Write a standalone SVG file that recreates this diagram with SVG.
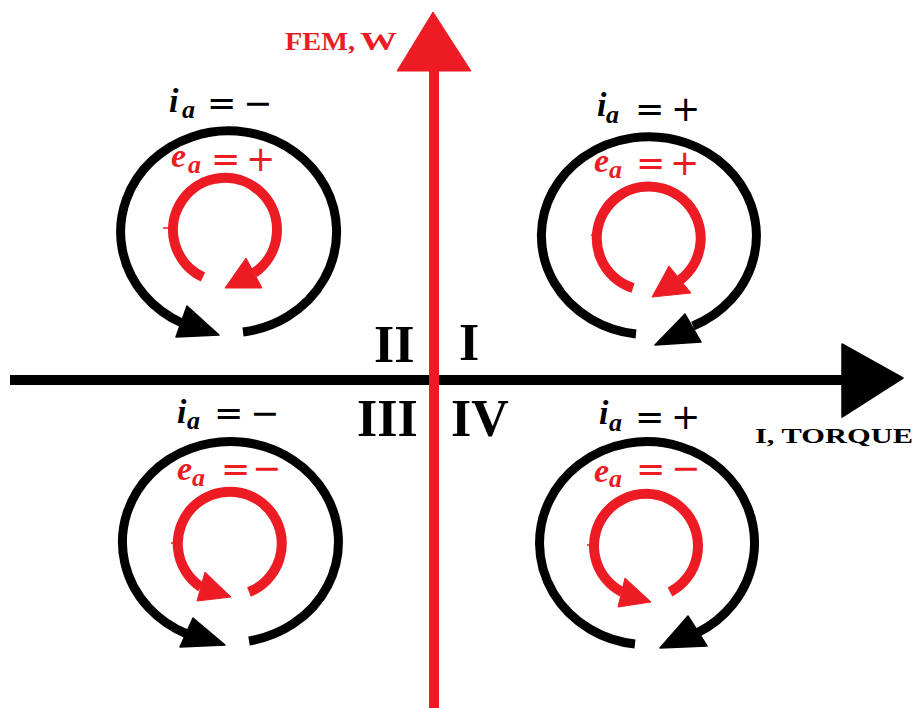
<svg xmlns="http://www.w3.org/2000/svg" width="917" height="708" viewBox="0 0 917 708">
<style>
.blk{fill:none;stroke:#000;stroke-width:9}
.red{fill:none;stroke:#ED1C24;stroke-width:10}
.bh{fill:#000;stroke:#000;stroke-width:1.5;stroke-linejoin:round}
.rh{fill:#ED1C24;stroke:#ED1C24;stroke-width:1;stroke-linejoin:round}
.tick{stroke:#ED1C24;stroke-width:1.5}
.num{font-family:"Liberation Serif",serif;font-weight:bold;font-size:52px;fill:#000}
.ax{font-family:"Liberation Serif",serif;font-weight:bold}
.i{font-family:"Liberation Serif",serif;font-style:italic;font-weight:bold;font-size:34px}
.sub{font-family:"Liberation Serif",serif;font-style:italic;font-weight:bold;font-size:26px}
.op{font-family:"DejaVu Sans",sans-serif;font-size:35px}
.k{fill:#000}
.r{fill:#ED1C24}
</style>
<rect width="917" height="708" fill="#fff"/>

<g id="connectors">
  <line x1="10" y1="380" x2="846" y2="380" stroke="#000" stroke-width="10"/>
  <polygon class="bh" points="842,344 903,378 842,417"/>
  <line x1="434" y1="708" x2="434" y2="68" stroke="#ED1C24" stroke-width="10"/>
  <polygon class="rh" points="433,12 397,71 471,71"/>
</g>

<g id="axis-labels">
  <text class="ax r" x="285" y="50" font-size="26" textLength="70" lengthAdjust="spacingAndGlyphs">FEM,</text>
  <text class="ax r" x="360" y="50" font-size="26" textLength="37" lengthAdjust="spacingAndGlyphs">W</text>
  <text class="ax k" x="755" y="443" font-size="22" textLength="158" lengthAdjust="spacingAndGlyphs">I, TORQUE</text>
</g>

<g id="quadrant-numbers">
  <text class="num" x="374" y="362">II</text>
  <text class="num" x="459" y="360">I</text>
  <text class="num" x="357" y="436">III</text>
  <text class="num" x="451" y="436">IV</text>
</g>

<g id="quadrant-II">
  <path class="blk" d="M243,332 A108,101 0 1 0 182,323"/>
  <polygon class="bh" points="187,306 219,335 176,337"/>
  <path class="red" d="M203,277 A52,52 0 1 1 254,273"/>
  <polygon class="rh" points="225,288 246,258 262,288"/>
  <line class="tick" x1="163" y1="228" x2="168" y2="228"/>
  <text class="k"><tspan class="i" x="169" y="112">i</tspan><tspan class="sub" x="182" y="118">a</tspan><tspan class="op" x="207" y="114.5">=</tspan><tspan class="op" x="243" y="114.5">−</tspan></text>
  <text class="r"><tspan class="i" x="171" y="167">e</tspan><tspan class="sub" x="188" y="173">a</tspan><tspan class="op" x="211" y="170.5">=</tspan><tspan class="op" x="246" y="170.5">+</tspan></text>
</g>

<g id="quadrant-I">
  <path class="blk" d="M636,334 A107.5,99 0 1 1 693,326"/>
  <polygon class="bh" points="655,345 685,314 701,342"/>
  <path class="red" d="M633,288 A52,52 0 1 1 680,280"/>
  <polygon class="rh" points="652,297 669,266 691,293"/>
  <line class="tick" x1="591" y1="235" x2="593" y2="235"/>
  <text class="k"><tspan class="i" x="597" y="116">i</tspan><tspan class="sub" x="606" y="123">a</tspan><tspan class="op" x="635" y="120.5">=</tspan><tspan class="op" x="671" y="120.5">+</tspan></text>
  <text class="r"><tspan class="i" x="594" y="172">e</tspan><tspan class="sub" x="609" y="178">a</tspan><tspan class="op" x="636" y="174.5">=</tspan><tspan class="op" x="670" y="174.5">+</tspan></text>
</g>

<g id="quadrant-III">
  <path class="blk" d="M249,641 A108,100.5 0 1 0 187,634"/>
  <polygon class="bh" points="193,618 225,645 180,647"/>
  <path class="red" d="M249,592 A52,52 0 1 0 201,587"/>
  <polygon class="rh" points="197,601 205,572 231,597"/>
  <line class="tick" x1="171" y1="543" x2="173" y2="543"/>
  <text class="k"><tspan class="i" x="177" y="423">i</tspan><tspan class="sub" x="187" y="429">a</tspan><tspan class="op" x="214" y="424.5">=</tspan><tspan class="op" x="250" y="424.5">−</tspan></text>
  <text class="r"><tspan class="i" x="177" y="480">e</tspan><tspan class="sub" x="192" y="486">a</tspan><tspan class="op" x="221" y="480.5">=</tspan><tspan class="op" x="252" y="479.5">−</tspan></text>
</g>

<g id="quadrant-IV">
  <path class="blk" d="M635,644 A107.5,101.5 0 1 1 697,633"/>
  <polygon class="bh" points="660,648 688,616 707,646"/>
  <path class="red" d="M670,592 A52,52 0 1 0 622,592"/>
  <polygon class="rh" points="618,607 625,578 651,602"/>
  <line class="tick" x1="587" y1="545" x2="589" y2="545"/>
  <text class="k"><tspan class="i" x="599" y="424">i</tspan><tspan class="sub" x="609" y="431">a</tspan><tspan class="op" x="635" y="428.5">=</tspan><tspan class="op" x="671" y="429">+</tspan></text>
  <text class="r"><tspan class="i" x="594" y="482">e</tspan><tspan class="sub" x="609" y="487">a</tspan><tspan class="op" x="636" y="480.5">=</tspan><tspan class="op" x="671" y="479.5">−</tspan></text>
</g>
</svg>
